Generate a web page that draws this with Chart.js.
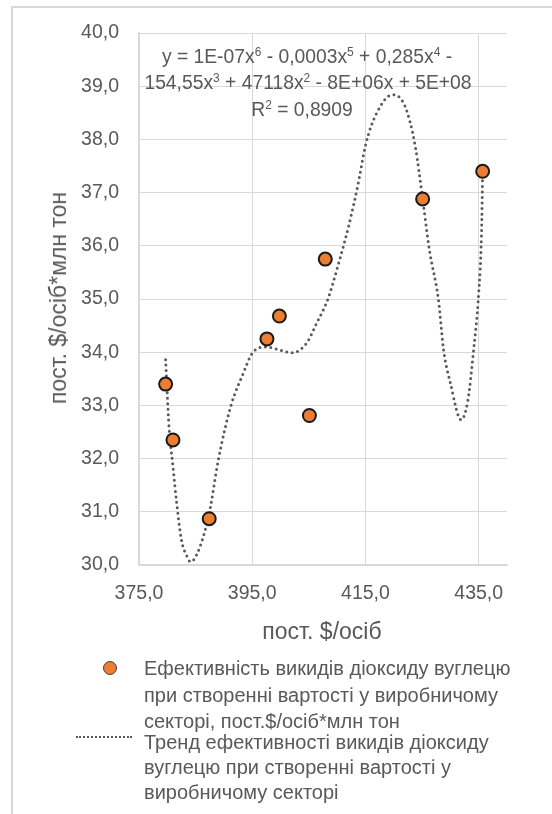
<!DOCTYPE html>
<html>
<head>
<meta charset="utf-8">
<script src="https://cdn.jsdelivr.net/npm/chart.js@4/dist/chart.umd.min.js"></script>
<style>
  html, body { margin:0; padding:0; background:#fff; }
  body { width:552px; height:814px; position:relative; overflow:hidden; font-family:"Liberation Sans", Arial, sans-serif; color:#595959; }
  #frame { position:absolute; left:11px; top:6px; width:600px; height:900px; border-left:2px solid #d9d9d9; border-top:2px solid #d9d9d9; }
  #c { position:absolute; left:0; top:0; }
  .txt { position:absolute; white-space:nowrap; font-size:19.3px; line-height:26px; }
  sup { font-size:12px; vertical-align:7px; line-height:0; }
</style>
</head>
<body>
<div id="frame"></div>
<canvas id="c" width="552" height="814"></canvas>

<div class="txt" style="left:0;width:614px;text-align:center;top:44px">y = 1E-07x<sup>6</sup> - 0,0003x<sup>5</sup> + 0,285x<sup>4</sup> -</div>
<div class="txt" style="left:0;width:616px;text-align:center;top:70px">154,55x<sup>3</sup> + 47118x<sup>2</sup> - 8E+06x + 5E+08</div>
<div class="txt" style="left:0;width:604px;text-align:center;top:97px">R<sup>2</sup> = 0,8909</div>

<div class="txt" style="left:0;width:644px;text-align:center;top:618px;font-size:23px">пост. $/осіб</div>
<div class="txt" style="left:58px;top:298px;font-size:23px;transform:translate(-50%,-50%) rotate(-90deg)">пост. $/осіб*млн тон</div>

<div style="position:absolute;left:103px;top:661px;width:12px;height:12px;border-radius:50%;background:#ed7d31;border:1.5px solid #404040"></div>
<div class="txt" style="left:144px;top:655px;font-size:20px;line-height:26.7px">Ефективність викидів діоксиду вуглецю<br>при створенні вартості у виробничому<br>секторі, пост.$/осіб*млн тон</div>
<div style="position:absolute;left:76px;top:736px;width:56px;height:0;border-top:2.5px dotted #595959"></div>
<div class="txt" style="left:144px;top:730px;font-size:20px;line-height:25px">Тренд ефективності викидів діоксиду<br>вуглецю при створенні вартості у<br>виробничому секторі</div>

<script>
// observed points
const xVals = [379.7, 381.0, 387.4, 397.6, 399.8, 405.1, 407.9, 425.1, 435.7];
const yVals = [33.40, 32.35, 30.87, 34.25, 34.68, 32.81, 35.75, 36.88, 37.40];

// polynomial trend
const trendX = [379.7, 380.3, 381.0, 381.6, 382.5, 383.5, 384.1, 385.3, 387.4, 389.0, 391.2, 393.4, 395.0, 397.4, 400.2, 402.1, 404.6, 406.4, 408.3, 410.1, 412.0, 413.6, 415.1, 417.0, 419.8, 422.0, 423.8, 425.1, 426.3, 427.9, 428.8, 430.0, 431.9, 433.1, 434.1, 435.0, 435.5, 435.7];
const trendY = [33.86, 32.60, 31.85, 31.22, 30.47, 30.16, 30.06, 30.22, 30.97, 31.97, 32.98, 33.60, 33.98, 34.10, 34.03, 33.99, 34.17, 34.55, 34.98, 35.61, 36.36, 37.11, 37.93, 38.50, 38.84, 38.62, 37.87, 36.88, 35.92, 34.98, 34.04, 33.42, 32.73, 33.10, 34.04, 35.11, 36.24, 37.43];

const xTicks = [375, 395, 415, 435];
const yTicks = [30, 31, 32, 33, 34, 35, 36, 37, 38, 39, 40];

const fmt = v => v.toFixed(1).replace('.', ',');
const gray = '#595959';

new Chart(document.getElementById('c').getContext('2d'), {
  type: 'scatter',
  data: {
    datasets: [
      {
        label: 'points',
        data: xVals.map((x, i) => ({x: x, y: yVals[i]})),
        backgroundColor: '#ed7d31', borderColor: '#1a1a1a', borderWidth: 2,
        pointRadius: 6.5, order: 0
      },
      {
        label: 'trend',
        data: trendX.map((x, i) => ({x: x, y: trendY[i]})),
        showLine: true, pointRadius: 0, borderColor: gray, borderWidth: 3,
        borderDash: [0, 5.5], borderCapStyle: 'round',
        cubicInterpolationMode: 'monotone', order: 1
      }
    ]
  },
  options: {
    responsive: false, animation: false,
    layout: {padding: {left: 0, top: 33, right: 45, bottom: 199}},
    plugins: {legend: {display: false}, tooltip: {enabled: false}},
    scales: {
      x: {
        min: 375, max: 440,
        afterBuildTicks: s => { s.ticks = xTicks.map(v => ({value: v})); },
        afterFit: s => { s.height = 50; },
        grid: {color: '#d9d9d9', lineWidth: 1, drawTicks: false},
        border: {color: '#d9d9d9', width: 1.5},
        ticks: {padding: 17, color: gray, font: {family: 'Liberation Sans', size: 19.5}, callback: v => fmt(v)}
      },
      y: {
        min: 30, max: 40,
        afterBuildTicks: s => { s.ticks = yTicks.map(v => ({value: v})); },
        afterFit: s => { s.width = 139; },
        grid: {color: '#d9d9d9', lineWidth: 1, drawTicks: false},
        border: {color: '#d9d9d9', width: 1.5},
        ticks: {padding: 20, color: gray, font: {family: 'Liberation Sans', size: 19.5}, callback: v => fmt(v)}
      }
    }
  }
});
</script>
</body>
</html>
